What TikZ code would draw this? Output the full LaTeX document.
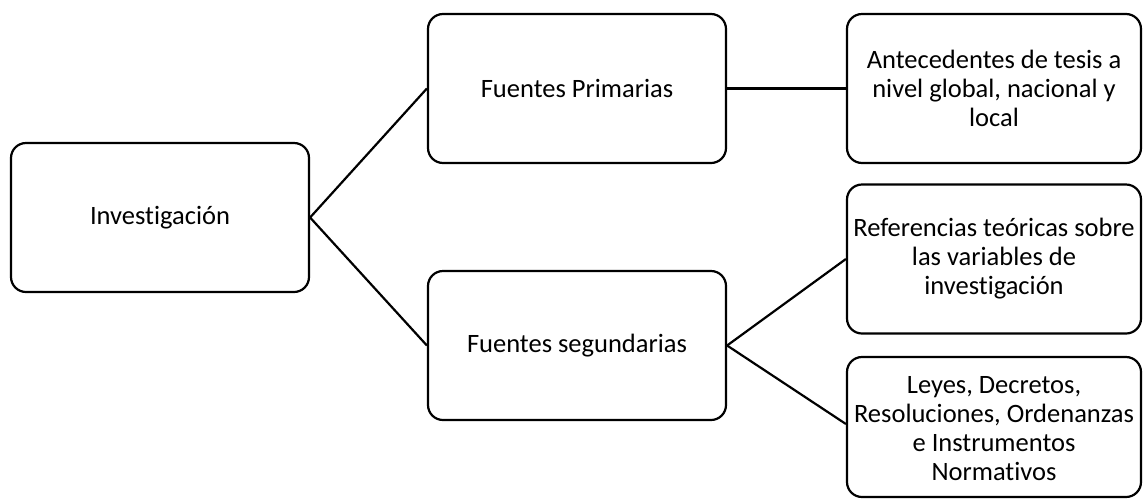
\documentclass[tikz,border=0pt]{standalone}
\usepackage{fontspec}
\setmainfont{Carlito}[Ligatures=NoCommon]
\begin{document}
\begin{tikzpicture}[x=1pt,y=-1pt,
 box/.style={draw=black, line width=2.2pt, rounded corners=15pt, minimum width=298pt, minimum height=149pt, align=center, inner sep=0pt, font=\fontsize{26.5}{29}\selectfont},
 rbox/.style={box, minimum width=294pt},
 link/.style={draw=black, line width=2.2pt}]
\useasboundingbox (0,0) rectangle (1143,499);
\node[box] (inv) at (160,217.5) {Investigación};
\node[box] (fp) at (577,88.5) {Fuentes Primarias};
\node[box] (fs) at (577,345.5) {Fuentes segundarias};
\node[rbox] (ant) at (994,88.5) {Antecedentes de tesis a\\nivel global, nacional y\\local};
\node[rbox] (ref) at (994,259) {Referencias teóricas sobre\\las variables de\\investigación};
\node[rbox, minimum height=140pt] (ley) at (994,427) {\\[-8pt]Leyes, Decretos,\\Resoluciones, Ordenanzas\\e Instrumentos\\Normativos};
\draw[link] (inv.east) -- (fp.west);
\draw[link] (inv.east) -- (fs.west);
\draw[link] (fp.east) -- (ant.west);
\draw[link] (fs.east) -- (ref.west);
\draw[link] (fs.east) -- ([yshift=3pt]ley.west);
\end{tikzpicture}
\end{document}
